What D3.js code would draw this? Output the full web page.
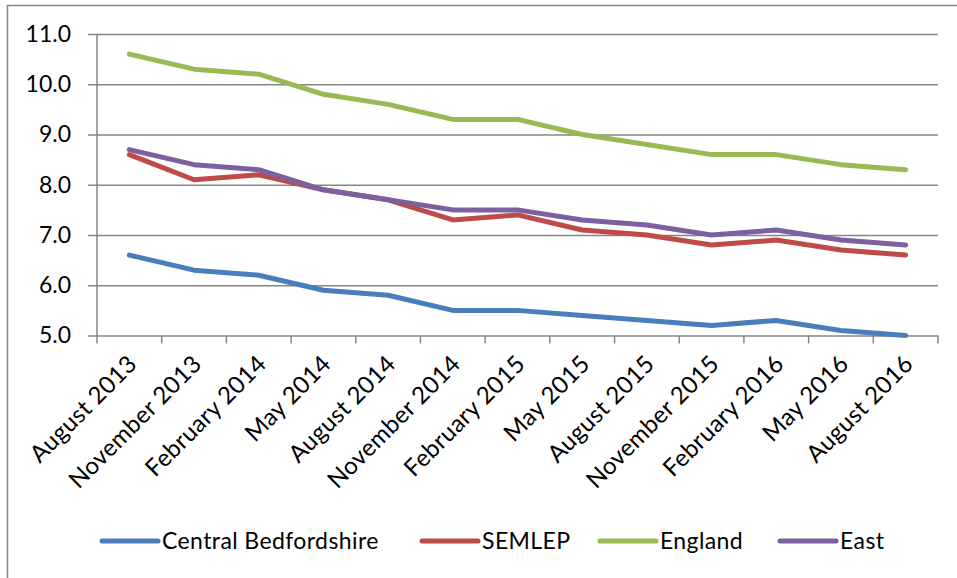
<!DOCTYPE html>
<html>
<head>
<meta charset="utf-8">
<script src="https://cdn.jsdelivr.net/npm/d3@7"></script>
<style>
  html, body { margin: 0; padding: 0; background: #fff; }
  svg { display: block; font-family: Lato, "Open Sans", sans-serif; }
</style>
</head>
<body>
<svg id="chart" width="957" height="578"></svg>
<script>
// Quarterly categories
const categories = [
  "August 2013", "November 2013", "February 2014", "May 2014", "August 2014",
  "November 2014", "February 2015", "May 2015", "August 2015", "November 2015",
  "February 2016", "May 2016", "August 2016"
];

// Series values
const centralBedfordshire = [6.6, 6.3, 6.2, 5.9, 5.8, 5.5, 5.5, 5.4, 5.3, 5.2, 5.3, 5.1, 5.0];
const semlep              = [8.6, 8.1, 8.2, 7.9, 7.7, 7.3, 7.4, 7.1, 7.0, 6.8, 6.9, 6.7, 6.6];
const england             = [10.6, 10.3, 10.2, 9.8, 9.6, 9.3, 9.3, 9.0, 8.8, 8.6, 8.6, 8.4, 8.3];
const east                = [8.7, 8.4, 8.3, 7.9, 7.7, 7.5, 7.5, 7.3, 7.2, 7.0, 7.1, 6.9, 6.8];

const seriesNames  = ["Central Bedfordshire", "SEMLEP", "England", "East"];
const seriesColors = ["#4a7ebb", "#be4b48", "#98b954", "#7d60a0"];
const seriesValues = [centralBedfordshire, semlep, england, east];

const yTicks = [5, 6, 7, 8, 9, 10, 11];

const svg = d3.select("#chart");
const plot = { left: 97, right: 938, top: 34, bottom: 335.5 };
const gridColor = "#868686";

// Outer chart frame
svg.append("rect")
  .attr("x", 7.5).attr("y", 5.5)
  .attr("width", 1000).attr("height", 1000)
  .attr("fill", "none").attr("stroke", gridColor).attr("stroke-width", 1.5);

const x = d3.scaleBand().domain(categories).range([plot.left, plot.right]);
const y = d3.scaleLinear().domain([5, 11]).range([plot.bottom, plot.top]);

// Horizontal gridlines with left tick marks and labels
const yAxis = d3.axisLeft(y)
  .tickValues(yTicks)
  .tickFormat(d3.format(".1f"))
  .tickSize(-(plot.right - plot.left))
  .tickPadding(18);

const gy = svg.append("g")
  .attr("transform", `translate(${plot.left},0)`)
  .call(yAxis);
gy.select(".domain").remove();
gy.selectAll(".tick line")
  .attr("x1", -9)
  .attr("stroke", gridColor).attr("stroke-width", 1.5);
gy.selectAll(".tick text")
  .attr("font-size", 23).attr("fill", "#000")
  .attr("font-family", "Lato, sans-serif")
  .attr("x", -26);

// Vertical axis line
svg.append("line")
  .attr("x1", plot.left).attr("x2", plot.left)
  .attr("y1", plot.top).attr("y2", plot.bottom)
  .attr("stroke", gridColor).attr("stroke-width", 1.5);

// Category axis: tick marks at band boundaries
const boundaries = categories.map(c => x(c)).concat([plot.right]);
svg.append("g").selectAll("line")
  .data(boundaries)
  .join("line")
  .attr("x1", d => d).attr("x2", d => d)
  .attr("y1", plot.bottom).attr("y2", plot.bottom + 8)
  .attr("stroke", gridColor).attr("stroke-width", 1.5);

// Rotated category labels
svg.append("g").selectAll("text")
  .data(categories)
  .join("text")
  .attr("transform", d => `translate(${x(d) + x.bandwidth() / 2 + 9},${plot.bottom + 30}) rotate(-45)`)
  .attr("text-anchor", "end")
  .attr("font-size", 24)
  .attr("letter-spacing", 0.3)
  .attr("fill", "#000")
  .text(d => d);

// Series lines
const line = d3.line()
  .x((d, i) => x(categories[i]) + x.bandwidth() / 2)
  .y(d => y(d));

svg.append("g").selectAll("path")
  .data(seriesValues)
  .join("path")
  .attr("d", d => line(d))
  .attr("fill", "none")
  .attr("stroke", (d, i) => seriesColors[i])
  .attr("stroke-width", 5)
  .attr("stroke-linecap", "round")
  .attr("stroke-linejoin", "round");

// Legend
const legendY = 541;
const legendX = [102, 422, 600, 780];
const legend = svg.append("g").selectAll("g")
  .data(seriesNames)
  .join("g")
  .attr("transform", (d, i) => `translate(${legendX[i]},${legendY})`);
legend.append("line")
  .attr("x1", 0).attr("x2", 56)
  .attr("stroke", (d, i) => seriesColors[i])
  .attr("stroke-width", 5)
  .attr("stroke-linecap", "round");
legend.append("text")
  .attr("x", 60).attr("y", 8)
  .attr("font-size", 23)
  .attr("letter-spacing", 0.4)
  .attr("fill", "#000")
  .text(d => d);
</script>
</body>
</html>
